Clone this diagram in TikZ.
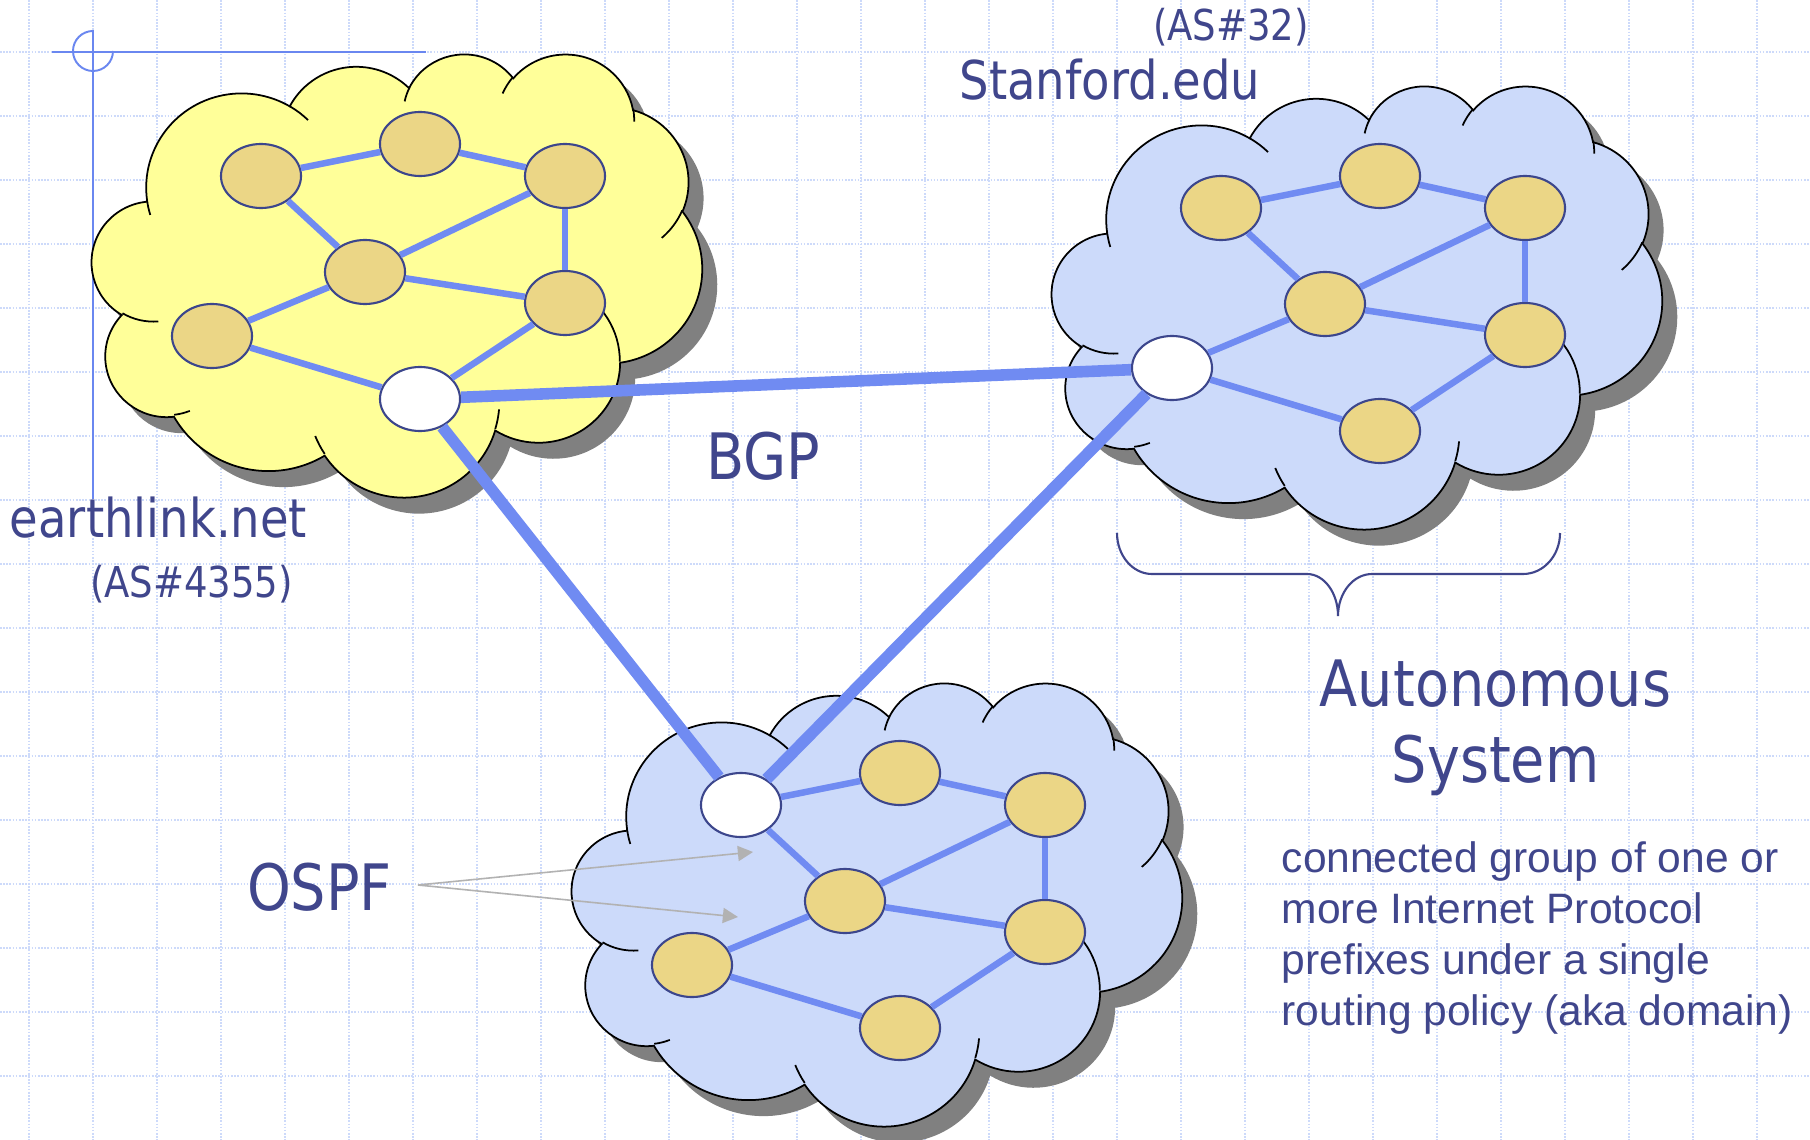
\documentclass[tikz,border=0pt]{standalone}
\usepackage{fontspec}
\usepackage{tikz}
\usetikzlibrary{shapes.geometric,arrows.meta}

\newfontfamily\tahoma[FakeStretch=0.87]{DejaVu Sans}
\newfontfamily\arialfont{Liberation Sans}

\definecolor{linkblue}{RGB}{112,139,242}
\definecolor{rtfill}{RGB}{235,214,134}
\definecolor{rtline}{RGB}{60,70,140}
\definecolor{txtblue}{RGB}{64,70,140}
\definecolor{cloudyellow}{RGB}{255,255,153}
\definecolor{cloudblue}{RGB}{204,218,250}
\definecolor{cloudshadow}{RGB}{128,128,128}
\definecolor{gridblue}{RGB}{205,218,250}
\definecolor{pointgray}{RGB}{178,178,178}
\definecolor{crossblue}{RGB}{106,135,240}

% one lobe of the cloud outline (radii and angles of the office cloud shape)
\newcommand{\puff}[4]{arc[x radius=#1,y radius=#2,start angle={vis(#3,#1,#2)},delta angle={mod(vis(#3+#4,#1,#2)-vis(#3,#1,#2)+720,360)}]}
\newcommand{\cloudpath}{(39,143.7)
  \puff{67.53}{91.90}{-190.487}{123.781}
  \puff{53.33}{72.67}{-144.102}{89.945}
  \puff{43.65}{59.45}{-145.808}{99.723}
  \puff{48.57}{65.95}{-130.986}{117.242}
  \puff{53.33}{72.73}{-78.709}{109.027}
  \puff{67.75}{92.20}{-46.267}{130.269}
  \puff{57.85}{78.67}{0.625}{114.033}
  \puff{67.52}{92.15}{22.452}{115.173}
  \puff{77.20}{105.43}{66.243}{75.711}
  \puff{43.60}{59.18}{-274.942}{146.736}
  \puff{43.45}{59.45}{-246.829}{152.519} -- cycle}
\newcommand{\cloudhooks}{
  (46.93,261.77) \puff{43.45}{59.45}{86.742}{26.430}
  (69.28,348.99) \puff{43.60}{59.18}{73.610}{11.447}
  (164.78,390.90) \puff{67.52}{92.15}{137.624}{14.081}
  (288.27,347.51) \puff{67.52}{92.15}{6.453}{15.998}
  (341.29,229.54) \puff{57.85}{78.67}{-70.292}{70.917}
  (417.98,153.54) \puff{53.33}{72.73}{30.318}{27.752}
  (383.24,54.26) \puff{48.57}{65.95}{-13.744}{14.859}
  (290.78,39.52) \puff{48.57}{65.95}{-149.181}{18.195}
  (221.41,47.20) \puff{43.65}{59.45}{-163.494}{17.686}
  (140.00,51.92) \puff{67.53}{91.90}{-66.707}{12.319}
  (41.27,157.89) \puff{67.53}{91.90}{157.654}{11.858}}

\begin{document}
\begin{tikzpicture}[x=0.01cm,y=-0.01cm,
  declare function={vis(\va,\vw,\vh)=atan2(\vw*sin(\va),\vh*cos(\va));},
  gridline/.style={gridblue,line width=0.45pt,dash pattern=on 0.45pt off 0.45pt},
  crosshair/.style={crossblue,line width=0.55pt},
  cloudline/.style={black,line width=0.5pt},
  router/.style={ellipse,draw=rtline,line width=0.6pt,fill=rtfill,minimum width=0.8cm,minimum height=0.64cm,inner sep=0pt},
  link/.style={linkblue,line width=1.85pt},
  bgp/.style={linkblue,line width=3.3pt},
  pointer/.style={pointgray,line width=0.45pt,-{Triangle[length=4.3pt,width=4.3pt]}},
  brace/.style={txtblue,line width=0.6pt},
  bigtxt/.style={font=\tahoma\fontsize{18.2}{21.6}\selectfont,text=txtblue,inner sep=0pt},
  midtxt/.style={font=\tahoma\fontsize{15.2}{18}\selectfont,text=txtblue,inner sep=0pt},
  smalltxt/.style={font=\tahoma\fontsize{12.1}{14}\selectfont,text=txtblue,inner sep=0pt},
  paratxt/.style={font=\arialfont\fontsize{12.1}{14.5}\selectfont,text=txtblue,inner sep=0pt}]

 \useasboundingbox (0,0) rectangle (1810,1140);
 \fill[white] (0,0) rectangle (1810,1140);
 \foreach \x in {29,93,...,1757}
   \draw[gridline] (\x,0) -- (\x,1140);
 \foreach \y in {52,116,...,1076}
   \draw[gridline] (0,\y) -- (1810,\y);

 \draw[crosshair] (52,52) -- (426,52) (93,30) -- (93,499);
 \draw[crosshair] (93,31) arc[start angle=-90,delta angle=-270,radius=20];

 \foreach \dx/\dy/\cf in {0/0/cloudyellow,960/32/cloudblue,480/629/cloudblue}
   {\begin{scope}[shift={(107+\dx,69+\dy)},xscale=1.412,yscale=1.0255]
      \fill[cloudshadow] \cloudpath;
    \end{scope}
    \begin{scope}[shift={(92+\dx,53+\dy)},xscale=1.412,yscale=1.0255]
      \filldraw[cloudline,fill=\cf] \cloudpath;
      \draw[cloudline] \cloudhooks;
    \end{scope}}

 \foreach \c/\dx/\dy/\g in {e/0/0/7,s/960/32/6,m/480/629/1}
   \foreach \r/\x/\y in {1/261/176,2/420/144,3/565/176,4/365/272,5/565/303,6/212/336,7/420/399}
      {\ifnum\r=\g \def\rf{white}\else\def\rf{rtfill}\fi
       \node[router,fill=\rf] (\c\r) at (\dx+\x,\dy+\y) {};}

 \foreach \c in {e,s,m}
   \foreach \p/\q in {1/2,2/3,1/4,4/3,3/5,4/5,6/4,6/7,7/5}
      \draw[link] (\c\p) -- (\c\q);

 \draw[bgp] (e7) -- (s6);
 \draw[bgp] (e7) -- (m1);
 \draw[bgp] (s6) -- (m1);

 \node[smalltxt,anchor=base] (stanfordas) at (1231,41) {(AS\#32)};
 \node[midtxt,anchor=base] (stanford) at (1110,100) {Stanford.edu};
 \node[midtxt,anchor=base] (earthlink) at (158.5,537) {earthlink.net};
 \node[smalltxt,anchor=base] (earthlinkas) at (191.5,597) {(AS\#4355)};
 \node[bigtxt,anchor=base] (bgplabel) at (763,479) {BGP};
 \node[bigtxt,anchor=base] (ospf) at (319.5,910) {OSPF};
 \node[bigtxt,anchor=base,align=center] (autosys) at (1495.5,782) {Autonomous\\System};
 \node[paratxt,anchor=base west,align=left] (asdef) at (1281,1025)
   {connected group of one or\\more Internet Protocol\\prefixes under a single\\routing policy (aka domain)};

 \coordinate (ospftail) at (418,885);
 \coordinate (ospfhead1) at (753,852);
 \coordinate (ospfhead2) at (738,917);
 \draw[pointer] (ospftail) -- (ospfhead1);
 \draw[pointer] (ospftail) -- (ospfhead2);

 \draw[brace] (1117,533) arc[start angle=180,delta angle=-90,x radius=35,y radius=41]
   -- (1307,574) arc[start angle=-90,delta angle=90,x radius=31,y radius=42]
   arc[start angle=180,delta angle=90,x radius=34,y radius=42]
   -- (1523,574) arc[start angle=90,delta angle=-90,x radius=37,y radius=41];
\end{tikzpicture}
\end{document}
